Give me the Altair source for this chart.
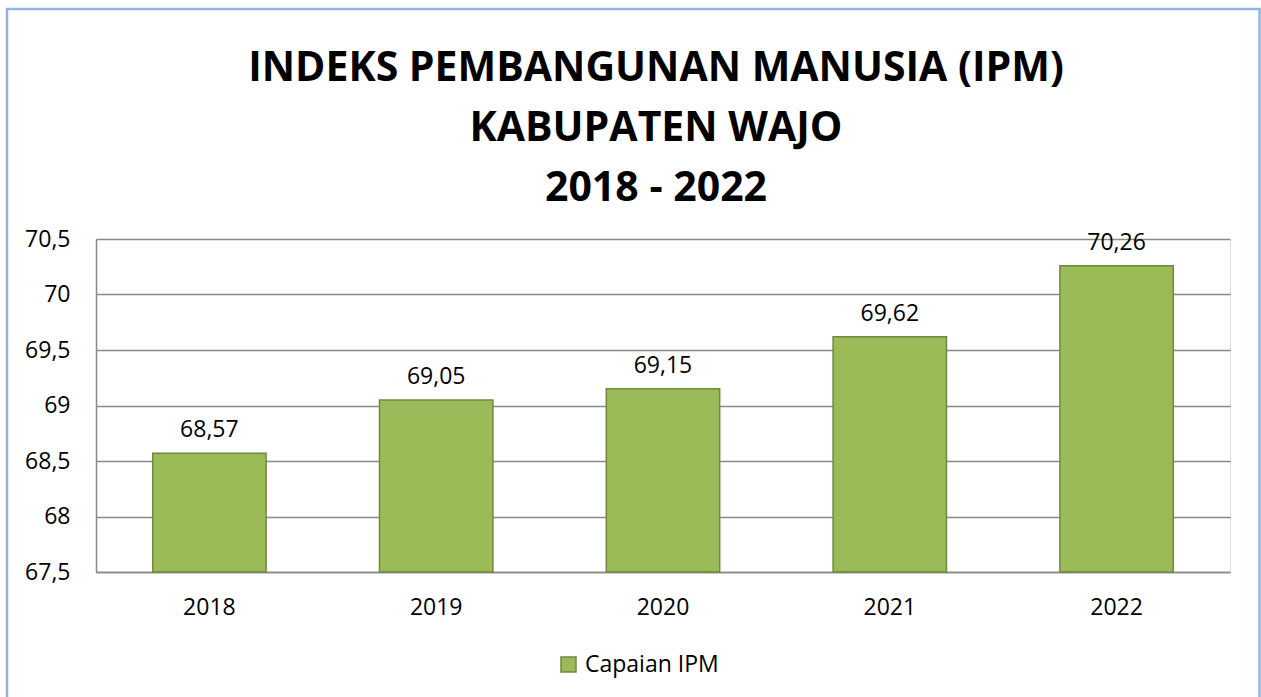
import altair as alt
import pandas as pd

years = ["2018", "2019", "2020", "2021", "2022"]
ipm = [68.57, 69.05, 69.15, 69.62, 70.26]
series_name = "Capaian IPM"
title_lines = ["INDEKS PEMBANGUNAN MANUSIA (IPM)", "KABUPATEN WAJO", "2018 - 2022"]

df = pd.DataFrame({"year": years, "ipm": ipm, "series": [series_name] * len(years)})

FONT = "Open Sans"
FILL = "#9BBB59"
EDGE = "#71893F"
GRID = "#898989"

x_enc = alt.X("year:N", sort=years, title=None,
              scale=alt.Scale(paddingInner=0.5, paddingOuter=0.25),
              axis=alt.Axis(labelAngle=0, ticks=False, domain=True, domainColor=GRID,
                            domainWidth=1.5, labelFontSize=23, labelPadding=24,
                            labelFont=FONT, labelColor="#000000", grid=False))
y_enc = alt.Y("ipm:Q", title=None,
              scale=alt.Scale(domain=[67.5, 70.5], zero=False, nice=False),
              axis=alt.Axis(values=[67.5, 68, 68.5, 69, 69.5, 70, 70.5], ticks=False,
                            domain=True, domainColor=GRID, domainWidth=1.5,
                            grid=True, gridColor=GRID, gridWidth=1.5,
                            labelFontSize=23, labelPadding=26, labelFont=FONT,
                            labelColor="#000000",
                            labelExpr="replace(toString(datum.value), '.', ',')"))

base = alt.Chart(df)

bars = base.mark_bar(stroke=EDGE, strokeWidth=1.5).encode(
    x=x_enc,
    y=y_enc,
    y2=alt.datum(67.5),
    fill=alt.Fill("series:N", title=None,
                  scale=alt.Scale(domain=[series_name], range=[FILL]),
                  legend=alt.Legend(orient="none", legendX=461, legendY=414,
                                    symbolType="square", symbolSize=225,
                                    symbolStrokeColor=EDGE, symbolStrokeWidth=1.5,
                                    labelFontSize=23, labelFont=FONT,
                                    labelColor="#000000", labelOffset=5, padding=0)),
)

labels = base.transform_calculate(
    lab="replace(format(datum.ipm, '.2f'), '.', ',')"
).mark_text(font=FONT, fontSize=23, baseline="alphabetic", dy=-16, color="#000000").encode(
    x=alt.X("year:N", sort=years),
    y=alt.Y("ipm:Q"),
    text="lab:N",
)

border = alt.Chart(alt.Data(values=[{"a": 1}])).mark_rect(
    fill="transparent", stroke="#8EB4E3", strokeWidth=2.5
).encode(
    x=alt.value(-89), x2=alt.value(1163.5),
    y=alt.value(-230), y2=alt.value(480),
)

chart = alt.layer(bars, labels, border).properties(
    width=1134,
    height=333,
    title=alt.TitleParams(text=title_lines, font=FONT, fontSize=41, fontWeight="bold",
                          lineHeight=60, anchor="middle", color="#000000", offset=0,
                          baseline="alphabetic", dy=234, dx=-7),
    autosize=alt.AutoSizeParams(type="none"),
    padding={"left": 96, "top": 239, "right": 31, "bottom": 125},
).configure_view(fill="#EFF2E9", stroke=None).configure(background="#FFFFFF")

chart.save("out.html", embed_options={"renderer": "svg", "actions": False})
